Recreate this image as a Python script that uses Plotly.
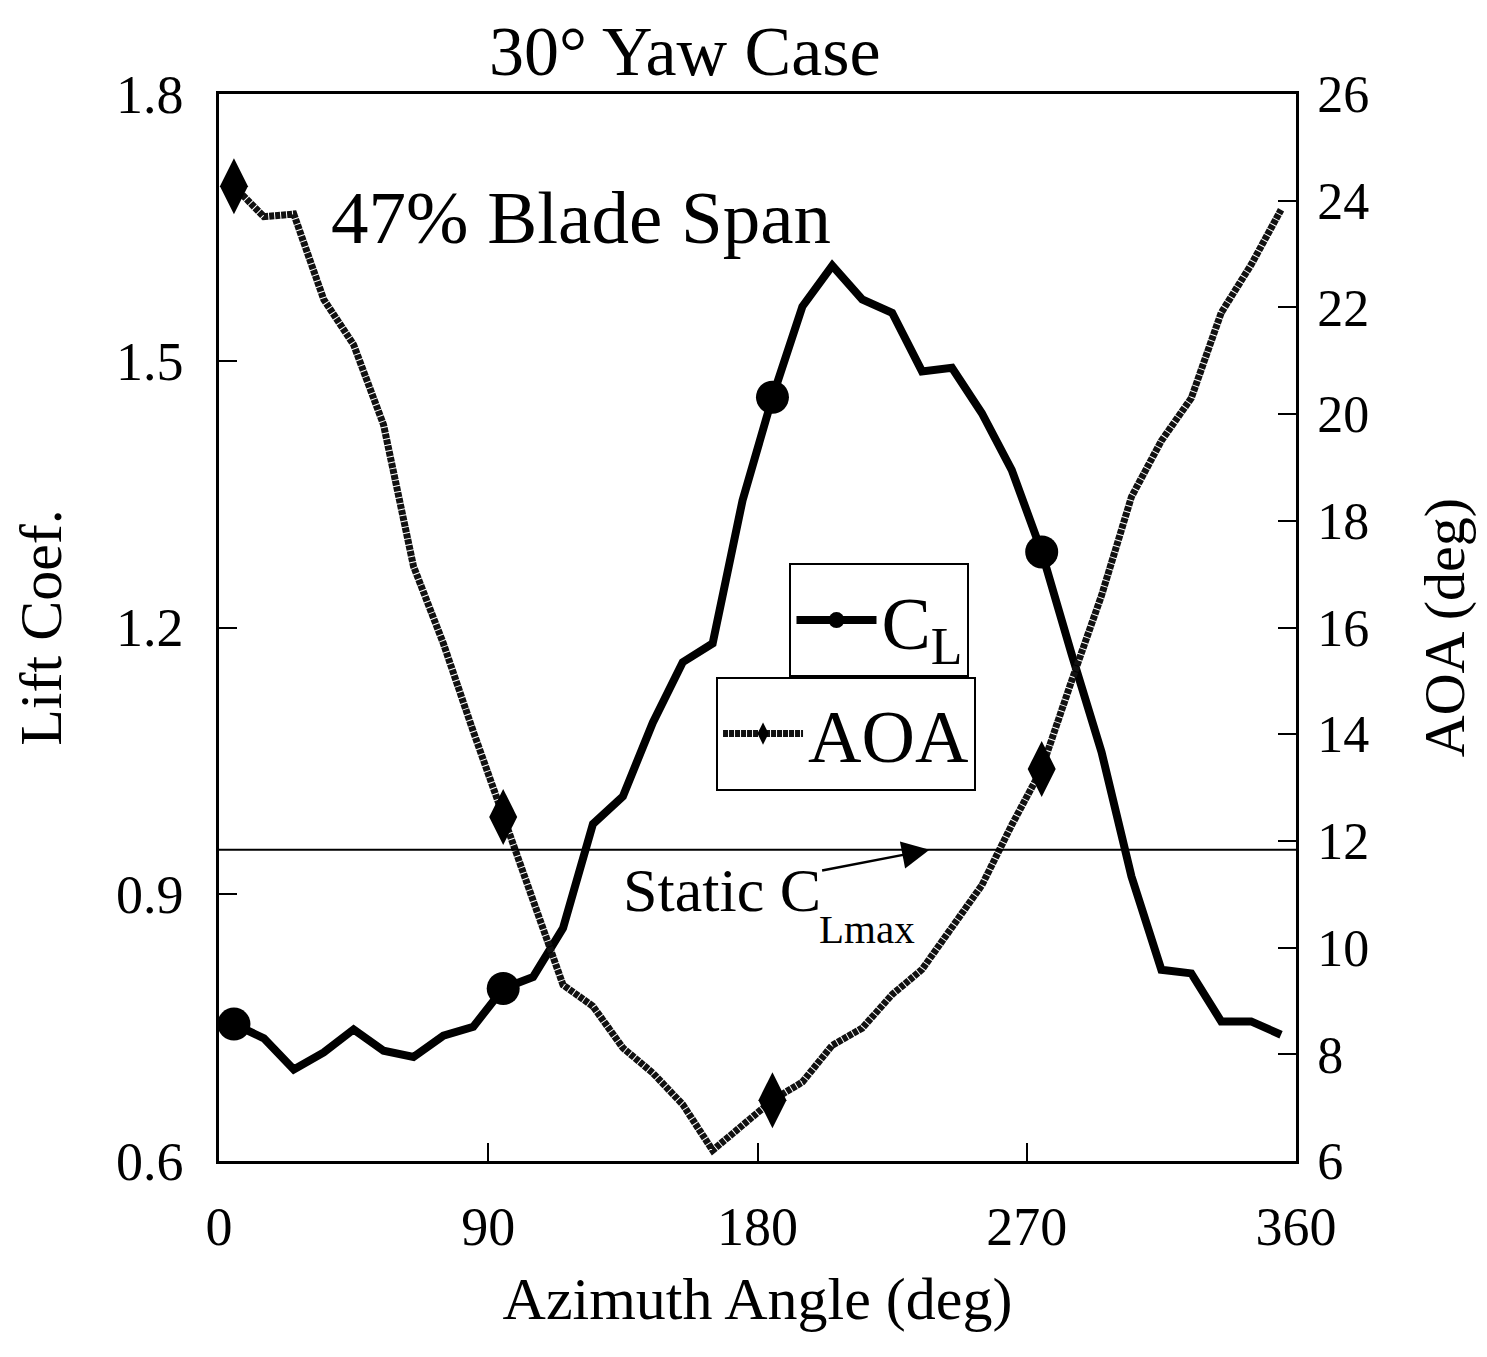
import plotly.graph_objects as go

# ---------------- data ----------------
AZIMUTH_DEG = [5, 15, 25, 35, 45, 55, 65, 75, 85, 95, 105, 115, 125, 135, 145, 155, 165, 175,
               185, 195, 205, 215, 225, 235, 245, 255, 265, 275, 285, 295, 305, 315, 325, 335, 345, 355]

LIFT_COEF = [0.754, 0.738, 0.703, 0.722, 0.748, 0.724, 0.717, 0.741, 0.751, 0.794, 0.807, 0.862,
             0.979, 1.010, 1.093, 1.161, 1.182, 1.343, 1.459, 1.561, 1.607, 1.569, 1.554, 1.488,
             1.492, 1.441, 1.377, 1.285, 1.170, 1.060, 0.920, 0.815, 0.811, 0.757, 0.757, 0.742]

AOA_DEG = [24.27, 23.70, 23.75, 22.15, 21.30, 19.80, 17.15, 15.70, 14.05, 12.45, 10.90, 9.30,
           8.90, 8.12, 7.65, 7.06, 6.20, 6.67, 7.14, 7.48, 8.17, 8.49, 9.12, 9.59,
           10.40, 11.17, 12.30, 13.35, 15.00, 16.60, 18.45, 19.50, 20.30, 21.90, 22.80, 23.83]

STATIC_CL_MAX = 0.95

X_TICKS = [0, 90, 180, 270, 360]
CL_TICKS = [0.6, 0.9, 1.2, 1.5, 1.8]
CL_TICK_LABELS = ["0.6", "0.9", "1.2", "1.5", "1.8"]
AOA_TICKS = [6, 8, 10, 12, 14, 16, 18, 20, 22, 24, 26]

SERIF = "Liberation Serif"

fig = go.Figure()

fig.add_trace(go.Scatter(
    x=AZIMUTH_DEG, y=LIFT_COEF, name="C<sub>L</sub>", mode="lines+markers",
    line=dict(color="black", width=8),
    marker=dict(symbol="circle", size=33, color="black", maxdisplayed=4),
    legend="legend",
))

fig.add_trace(go.Scatter(
    x=AZIMUTH_DEG, y=AOA_DEG, name="AOA", yaxis="y2", mode="lines+markers",
    line=dict(color="#111111", width=7, dash="5px,1px"),
    marker=dict(symbol="diamond-tall", size=40, color="black", maxdisplayed=4),
    legend="legend2",
))

axis_common = dict(
    ticks="inside", ticklen=18, tickwidth=2, tickcolor="black",
    showline=True, linecolor="black", linewidth=2.5,
    showgrid=False, zeroline=False,
)

fig.update_layout(
    width=1487, height=1357,
    margin=dict(l=211, r=199, t=86, b=204),
    paper_bgcolor="white", plot_bgcolor="white",
    font=dict(family=SERIF, color="black", size=50),
    xaxis=dict(
        range=[0, 360], tickvals=X_TICKS, mirror=True,
        tickfont=dict(size=54), ticklabelstandoff=16,
        title=dict(text="Azimuth Angle (deg)", font=dict(size=60), standoff=22),
        **axis_common,
    ),
    yaxis=dict(
        range=[0.6, 1.8], tickvals=CL_TICKS, ticktext=CL_TICK_LABELS,
        tickfont=dict(size=54), ticklabelstandoff=22,
        title=dict(text="Lift Coef.", font=dict(size=60), standoff=45),
        **axis_common,
    ),
    yaxis2=dict(
        range=[6, 26], tickvals=AOA_TICKS, overlaying="y", side="right",
        tickfont=dict(size=52), ticklabelstandoff=8,
        title=dict(text="AOA (deg)", font=dict(size=58), standoff=56),
        **axis_common,
    ),
    showlegend=True,
    legend=dict(
        x=0.5297, y=0.560, xanchor="left", yanchor="top",
        bordercolor="black", borderwidth=2, bgcolor="white",
        font=dict(size=74, family=SERIF), itemwidth=80,
    ),
    legend2=dict(
        x=0.4615, y=0.4536, xanchor="left", yanchor="top",
        bordercolor="black", borderwidth=2, bgcolor="white",
        font=dict(size=74, family=SERIF), itemwidth=80,
    ),
)

# static CLmax reference line
fig.add_shape(
    type="line", xref="x domain", x0=0, x1=1, yref="y", y0=STATIC_CL_MAX, y1=STATIC_CL_MAX,
    line=dict(color="black", width=2),
)

# title and notes
fig.add_annotation(
    text="30° Yaw Case", xref="paper", yref="paper", x=0.433, y=1,
    xanchor="center", yanchor="bottom", yshift=2, showarrow=False,
    font=dict(family=SERIF, size=70, color="black"),
)
fig.add_annotation(
    text="47% Blade Span", xref="x", yref="y", x=121, y=1.661,
    xanchor="center", yanchor="middle", showarrow=False,
    font=dict(family=SERIF, size=75, color="black"),
)
# "Static C" label with its arrow pointing at the static CLmax line
fig.add_annotation(
    text="Static C", xref="x", yref="y", x=237.5, y=STATIC_CL_MAX,
    axref="x", ayref="y", ax=168, ay=0.905,
    showarrow=True, arrowhead=2, arrowsize=2.2, arrowwidth=2.5, arrowcolor="black",
    font=dict(family=SERIF, size=62, color="black"),
)
fig.add_annotation(
    text="Lmax", xref="x", yref="y", x=216.7, y=0.861,
    xanchor="center", yanchor="middle", showarrow=False,
    font=dict(family=SERIF, size=41, color="black"),
)

fig.write_html("out.html")
